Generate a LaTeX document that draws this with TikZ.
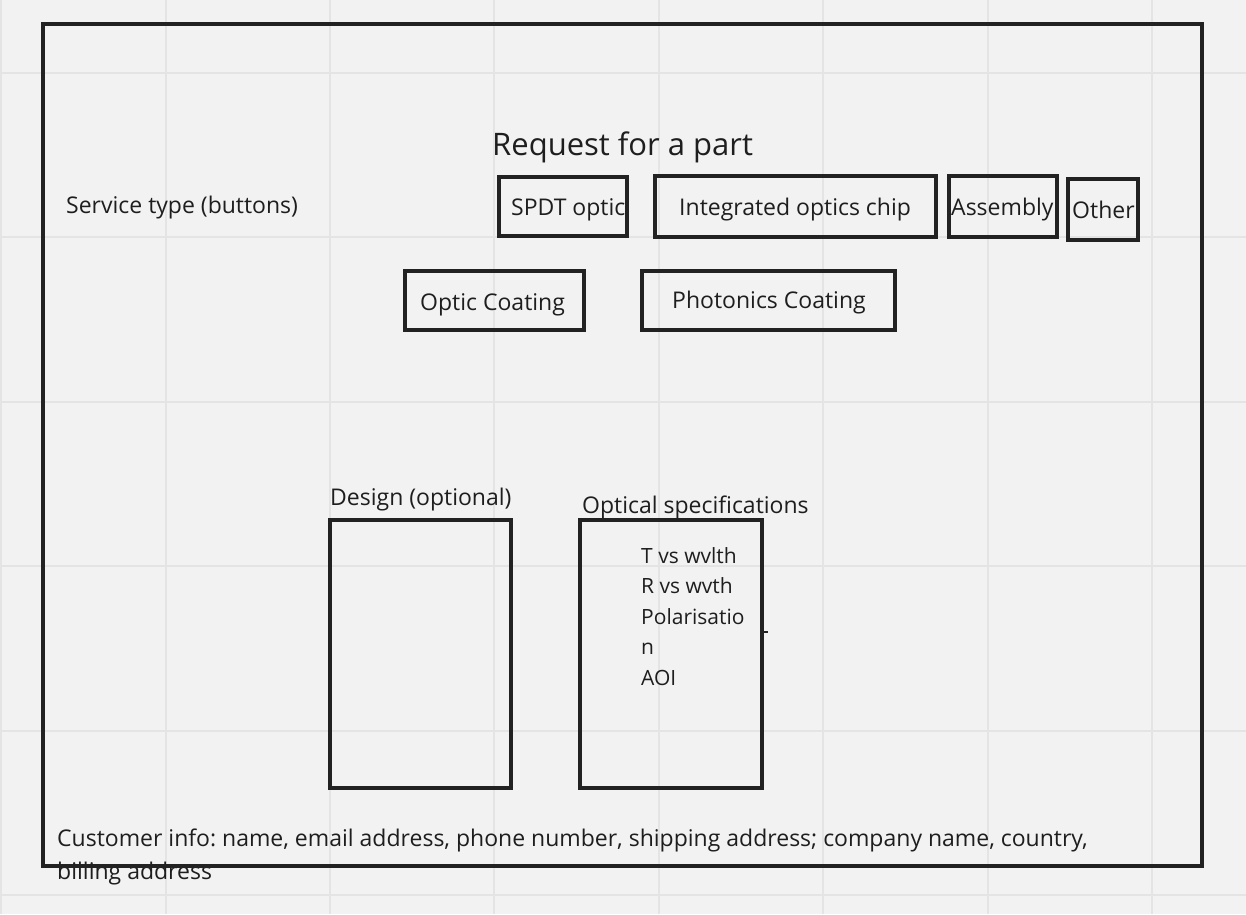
\documentclass[tikz,border=0pt]{standalone}
\usepackage{fontspec}
\setmainfont{Open Sans}
\definecolor{bgc}{RGB}{242,242,242}
\definecolor{gridc}{RGB}{228,228,228}
\definecolor{ink}{RGB}{34,34,34}
\definecolor{txt}{RGB}{30,30,30}
\tikzset{
  box/.style={draw=ink, line width=3.2pt, rectangle, inner sep=0pt},
  lbl/.style={anchor=base west, inner sep=0pt, text=txt, font=\fontsize{23}{30}\selectfont\frenchspacing},
  sml/.style={anchor=base west, inner sep=0pt, text=txt, font=\fontsize{21}{28}\selectfont\frenchspacing},
  ttl/.style={anchor=base west, inner sep=0pt, text=txt, font=\fontsize{31}{36}\selectfont\frenchspacing},
}
\newcommand{\mybox}[5]{\node[box, minimum width={#3-#2}, minimum height={#5-#4}] (#1) at ({(#2+#3)/2},{(#4+#5)/2}) {};}
\begin{document}
\begin{tikzpicture}[x=1pt,y=-1pt]
\fill[bgc] (0,0) rectangle (1246,914);
\useasboundingbox (0,0) rectangle (1246,914);
% grid
\foreach \gx in {1.2,165.6,330,494.4,658.8,823.2,987.6,1152}
  \draw[gridc, line width=2pt] (\gx,0) -- (\gx,914);
\foreach \gy in {73,237.4,401.8,566.2,730.6,895}
  \draw[gridc, line width=2pt] (0,\gy) -- (1246,\gy);
% texts
\node[lbl] (svc) at (66,213) {Service type (buttons)};
\node[ttl] (title) at (492,155) {Request for a part};
\node[lbl] (tspdt) at (511,215) {SPDT optic};
\node[lbl] (tint) at (679,215) {Integrated optics chip};
\node[lbl] (tasm) at (951,215) {Assembly};
\node[lbl] (toth) at (1072,218) {Other};
\node[lbl] (tocoat) at (420,310) {Optic Coating};
\node[lbl] (tpcoat) at (672,308) {Photonics Coating};
\node[lbl] (tdes) at (330,505) {Design (optional)};
\node[lbl] (tospec) at (582,513) {Optical specifications};
\node[sml] (l1) at (641,563) {T vs wvlth};
\node[sml] (l2) at (641,593) {R vs wvth};
\node[sml] (l3) at (641,624) {Polarisatio};
\node[sml] (l4) at (641,654) {n};
\node[sml] (l5) at (641,685) {AOI};
\node[lbl] (cust1) at (57,846) {Customer info: name, email address, phone number, shipping address; company name, country,};
\node[lbl] (cust2) at (57,879) {billing address};
% boxes
\mybox{spdt}{499}{627}{177}{236}
\mybox{intc}{655}{936}{176}{237}
\mybox{asm}{949}{1057}{176}{237}
\mybox{oth}{1068}{1138}{179}{240}
\mybox{ocoat}{405}{584}{271}{330}
\mybox{pcoat}{642}{895}{271}{330}
\mybox{des}{330}{511}{520}{788}
\mybox{ospec}{580}{762}{520}{788}
\coordinate (stub) at (768,632);
\draw[ink, line width=1.5pt] (ospec.east |- stub) -- (stub);
\mybox{frame}{43}{1202}{24}{866}
\end{tikzpicture}
\end{document}
